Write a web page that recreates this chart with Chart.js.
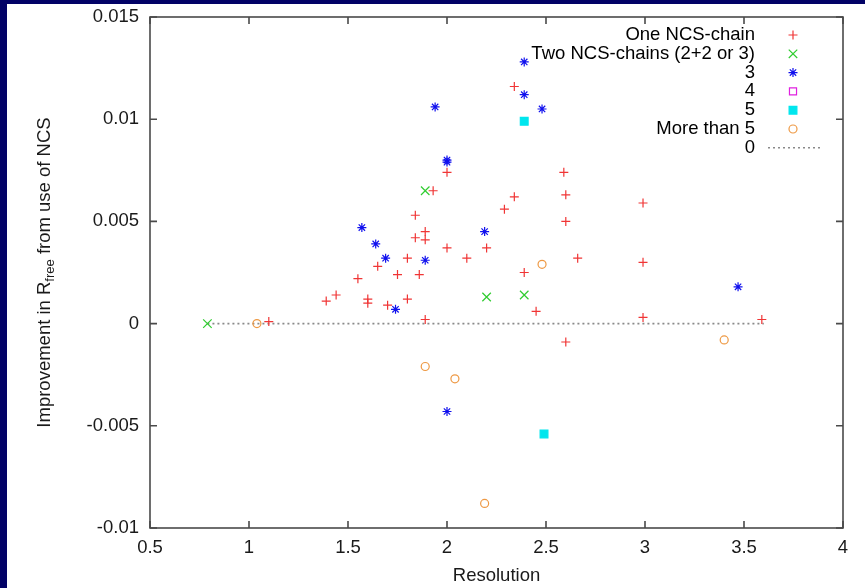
<!DOCTYPE html>
<html>
<head>
<meta charset="utf-8">
<script src="https://cdn.jsdelivr.net/npm/chart.js@4/dist/chart.umd.min.js"></script>
<style>
  html, body { margin: 0; padding: 0; background: #020266; width: 865px; height: 588px; overflow: hidden; }
  #wrap { position: absolute; left: 7px; top: 4px; width: 858px; height: 584px; background: #fff; }
</style>
</head>
<body>
<div id="wrap"><canvas id="chart" width="858" height="584"></canvas></div>
<script>
// Werte
const oneX = [1.10, 1.39, 1.44, 1.55, 1.60, 1.60, 1.65, 1.70, 1.75, 1.80, 1.80, 1.84, 1.84, 1.86, 1.89, 1.89, 1.89, 1.93,
              2.00, 2.00, 2.10, 2.20, 2.29, 2.34, 2.34, 2.39, 2.45, 2.59, 2.60, 2.60, 2.60, 2.66, 2.99, 2.99, 2.99, 3.59];
const oneY = [0.0001, 0.0011, 0.0014, 0.0022, 0.0012, 0.0010, 0.0028, 0.0009, 0.0024, 0.0032, 0.0012, 0.0053, 0.0042, 0.0024, 0.0045, 0.0041, 0.0002, 0.0065,
              0.0074, 0.0037, 0.0032, 0.0037, 0.0056, 0.0062, 0.0116, 0.0025, 0.0006, 0.0074, 0.0063, 0.0050, -0.0009, 0.0032, 0.0059, 0.0030, 0.0003, 0.0002];

const twoX = [0.79, 1.89, 2.20, 2.39];
const twoY = [0.0, 0.0065, 0.0013, 0.0014];

const threeX = [1.94, 2.39, 2.39, 2.48, 2.00, 2.00, 1.57, 1.64, 1.69, 1.89, 1.74, 2.19, 2.00, 3.47];
const threeY = [0.0106, 0.0128, 0.0112, 0.0105, 0.0080, 0.0079, 0.0047, 0.0039, 0.0032, 0.0031, 0.0007, 0.0045, -0.0043, 0.0018];

const fourX = [];
const fourY = [];

const fiveX = [2.39, 2.49];
const fiveY = [0.0099, -0.0054];

const moreX = [1.04, 1.89, 2.04, 2.19, 2.48, 3.40];
const moreY = [0.0, -0.0021, -0.0027, -0.0088, 0.0029, -0.0008];

const zeroX = [0.79, 3.60];
const zeroY = [0, 0];

const xTicks = [0.5, 1, 1.5, 2, 2.5, 3, 3.5, 4];
const yTicks = [-0.01, -0.005, 0, 0.005, 0.01, 0.015];

const labels = ['One NCS-chain', 'Two NCS-chains (2+2 or 3)', '3', '4', '5', 'More than 5', '0'];

const FONT = 'Liberation Sans, Arial, Helvetica, sans-serif';
const SIZE = 18.5;
const TEXT = '#1a1a1a';

const pts = (xs, ys) => xs.map((x, i) => ({ x: x, y: ys[i] }));

const markerSet = (label, xs, ys, style, color, radius, fill) => ({
    label: label,
    data: pts(xs, ys),
    pointStyle: style,
    pointRadius: radius,
    pointHoverRadius: radius,
    pointBorderColor: color,
    pointBackgroundColor: fill ? color : 'rgba(0,0,0,0)',
    pointBorderWidth: 1.2,
    showLine: false
});

const datasets = [
    markerSet(labels[0], oneX, oneY, 'cross', '#f03535', 4.5, false),
    markerSet(labels[1], twoX, twoY, 'crossRot', '#30cc30', 6, false),
    markerSet(labels[2], threeX, threeY, 'star', '#1010ee', 4.5, false),
    markerSet(labels[3], fourX, fourY, 'rect', '#e020e0', 5, false),
    markerSet(labels[4], fiveX, fiveY, 'rect', '#00e6ee', 5.5, true),
    markerSet(labels[5], moreX, moreY, 'circle', '#ee9944', 4, false),
    {
        label: labels[6],
        data: pts(zeroX, zeroY),
        showLine: true,
        borderColor: '#8a8a8a',
        borderWidth: 1.6,
        borderDash: [2, 3],
        pointRadius: 0
    }
];

const fmt = v => String(parseFloat(Number(v).toFixed(4)));

// Rahmen mit Ticks auf allen vier Seiten
const framePlugin = {
    id: 'frame',
    afterDraw(chart) {
        const { ctx, chartArea: a, scales } = chart;
        ctx.save();
        ctx.strokeStyle = '#4a4a4a';
        ctx.lineWidth = 1.6;
        ctx.strokeRect(a.left, a.top, a.right - a.left, a.bottom - a.top);
        ctx.beginPath();
        xTicks.forEach(v => {
            const px = scales.x.getPixelForValue(v);
            ctx.moveTo(px, a.bottom); ctx.lineTo(px, a.bottom - 7);
            ctx.moveTo(px, a.top); ctx.lineTo(px, a.top + 7);
        });
        yTicks.forEach(v => {
            const py = scales.y.getPixelForValue(v);
            ctx.moveTo(a.left, py); ctx.lineTo(a.left + 7, py);
            ctx.moveTo(a.right, py); ctx.lineTo(a.right - 7, py);
        });
        ctx.stroke();
        ctx.restore();
    }
};

// Legende rechts oben, Text rechtsbündig, Symbol rechts davon
const legendPlugin = {
    id: 'gpLegend',
    afterDraw(chart) {
        const ctx = chart.ctx;
        const textRight = 748, markX = 786, top = 31, step = 18.8;
        ctx.save();
        ctx.font = SIZE + 'px ' + FONT;
        ctx.fillStyle = '#000';
        ctx.textAlign = 'right';
        ctx.textBaseline = 'middle';
        chart.data.datasets.forEach((ds, i) => {
            const y = top + i * step;
            ctx.fillText(ds.label, textRight, y);
            if (ds.showLine) {
                ctx.save();
                ctx.strokeStyle = ds.borderColor;
                ctx.lineWidth = ds.borderWidth;
                ctx.setLineDash(ds.borderDash);
                ctx.beginPath();
                ctx.moveTo(761, y); ctx.lineTo(813, y);
                ctx.stroke();
                ctx.restore();
            } else {
                ctx.save();
                ctx.strokeStyle = ds.pointBorderColor;
                ctx.fillStyle = ds.pointBackgroundColor;
                ctx.lineWidth = ds.pointBorderWidth;
                Chart.helpers.drawPoint(ctx, { pointStyle: ds.pointStyle, radius: ds.pointRadius, borderWidth: ds.pointBorderWidth, rotation: 0 }, markX, y);
                ctx.restore();
            }
        });
        ctx.restore();
    }
};

// y-Achsentitel mit tiefgestelltem "free"
const yTitlePlugin = {
    id: 'yTitle',
    afterDraw(chart) {
        const ctx = chart.ctx;
        const a = chart.chartArea;
        const parts = [
            { t: 'Improvement in R', f: SIZE + 'px ' + FONT, dy: 0 },
            { t: 'free', f: '13px ' + FONT, dy: 5 },
            { t: ' from use of NCS', f: SIZE + 'px ' + FONT, dy: 0 }
        ];
        ctx.save();
        let total = 0;
        parts.forEach(p => { ctx.font = p.f; p.w = ctx.measureText(p.t).width; total += p.w; });
        ctx.translate(38, (a.top + a.bottom) / 2);
        ctx.rotate(-Math.PI / 2);
        ctx.fillStyle = TEXT;
        ctx.textBaseline = 'middle';
        ctx.textAlign = 'left';
        let x = -total / 2;
        parts.forEach(p => {
            ctx.font = p.f;
            ctx.fillText(p.t, x, p.dy);
            x += p.w;
        });
        ctx.restore();
    }
};

new Chart(document.getElementById('chart'), {
    type: 'scatter',
    data: { datasets: datasets },
    options: {
        responsive: false,
        animation: false,
        layout: { padding: { left: 0, top: 13, right: 22, bottom: 0 } },
        plugins: {
            legend: { display: false },
            tooltip: { enabled: false }
        },
        scales: {
            x: {
                type: 'linear',
                min: 0.5,
                max: 4,
                afterBuildTicks: s => { s.ticks = xTicks.map(v => ({ value: v })); },
                afterFit: s => { s.height = 60; s.paddingLeft = 0; s.paddingRight = 0; },
                grid: { display: false, drawTicks: false },
                border: { display: false },
                ticks: { color: TEXT, font: { family: FONT, size: SIZE }, padding: 9, maxRotation: 0, callback: fmt },
                title: { display: true, text: 'Resolution', color: TEXT, font: { family: FONT, size: SIZE }, padding: { top: 0, bottom: 1 } }
            },
            y: {
                type: 'linear',
                min: -0.01,
                max: 0.015,
                afterBuildTicks: s => { s.ticks = yTicks.map(v => ({ value: v })); },
                afterFit: s => { s.width = 143; s.paddingTop = 0; s.paddingBottom = 0; },
                grid: { display: false, drawTicks: false },
                border: { display: false },
                ticks: { color: TEXT, font: { family: FONT, size: SIZE }, padding: 11, callback: fmt }
            }
        }
    },
    plugins: [framePlugin, legendPlugin, yTitlePlugin]
});
</script>
</body>
</html>
